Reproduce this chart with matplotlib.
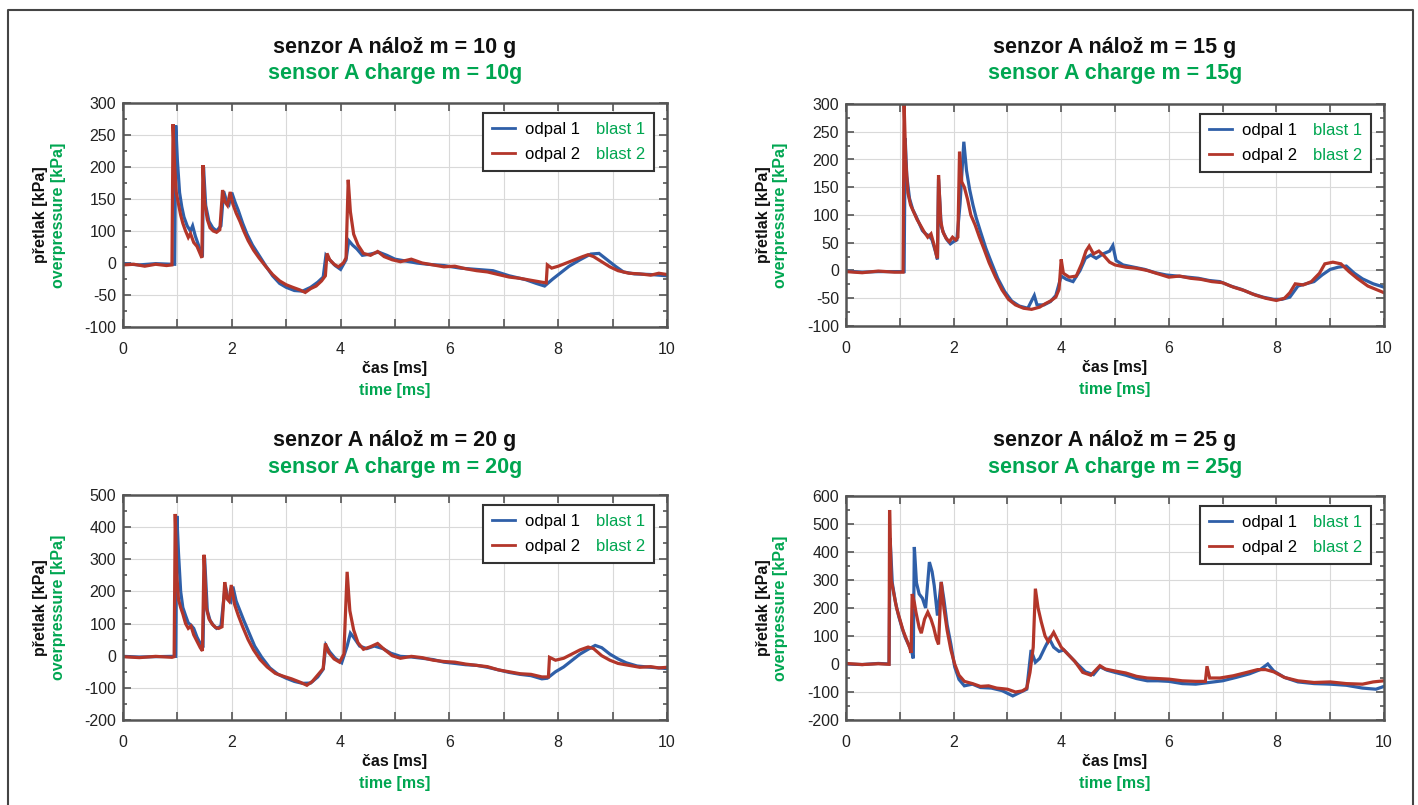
import numpy as np
import matplotlib
matplotlib.use("Agg")
import matplotlib.pyplot as plt
from matplotlib.lines import Line2D
from matplotlib.ticker import MultipleLocator

plt.rcParams["font.family"] = ["Liberation Sans", "DejaVu Sans"]
plt.rcParams["axes.unicode_minus"] = False

W, H = 1418, 805
GREEN = "#00a651"
BLUE = "#2f5fa8"
RED = "#b3362a"

# ---- data: (time ms, overpressure kPa) ----
m10_blast1 = [(0, -1), (0.3, -3), (0.6, -1), (0.9, -2), (0.95, -2), (0.97, 215), (1.00, 160), (1.04, 110),
              (1.08, 88), (1.12, 72), (1.18, 58), (1.24, 50), (1.28, 58), (1.33, 42), (1.40, 25), (1.44, 15),
              (1.46, 10), (1.48, 150), (1.52, 90), (1.58, 65), (1.65, 55), (1.72, 50), (1.80, 58), (1.85, 112),
              (1.90, 98), (1.95, 92), (2.00, 110), (2.06, 95), (2.12, 82), (2.20, 62), (2.28, 45), (2.38, 28),
              (2.50, 12), (2.62, -4), (2.75, -20), (2.88, -32), (3.00, -38), (3.15, -43), (3.30, -44),
              (3.45, -38), (3.58, -30), (3.68, -22), (3.73, 12), (3.80, 5), (3.90, -4), (4.00, -10), (4.10, 5),
              (4.15, 35), (4.22, 28), (4.30, 22), (4.40, 12), (4.55, 14), (4.70, 17), (4.85, 12), (5.00, 6),
              (5.20, 3), (5.40, 0), (5.60, -2), (5.90, -4), (6.20, -8), (6.50, -10), (6.80, -12), (7.10, -20),
              (7.40, -26), (7.60, -32), (7.75, -36), (7.90, -25), (8.05, -15), (8.20, -5), (8.40, 5),
              (8.60, 14), (8.75, 15), (8.90, 5), (9.05, -5), (9.20, -14), (9.40, -17), (9.70, -18), (10.0, -20)]
m10_blast2 = [(0, -3), (0.2, -2), (0.4, -5), (0.6, -2), (0.8, -4), (0.9, -3), (0.92, 217), (0.95, 150),
              (0.98, 110), (1.02, 92), (1.06, 75), (1.10, 62), (1.15, 50), (1.20, 40), (1.24, 46), (1.30, 32),
              (1.36, 26), (1.42, 14), (1.45, 8), (1.47, 153), (1.50, 95), (1.55, 68), (1.60, 55), (1.66, 50),
              (1.72, 48), (1.78, 52), (1.83, 114), (1.87, 96), (1.92, 90), (1.97, 111), (2.02, 92), (2.08, 78),
              (2.15, 65), (2.22, 50), (2.30, 35), (2.40, 20), (2.50, 8), (2.62, -5), (2.75, -18), (2.88, -28),
              (3.00, -34), (3.12, -38), (3.25, -42), (3.35, -46), (3.45, -40), (3.55, -36), (3.65, -28),
              (3.72, -20), (3.75, 15), (3.80, 5), (3.88, -2), (3.96, -6), (4.05, 0), (4.10, 8), (4.14, 130),
              (4.18, 80), (4.24, 45), (4.32, 28), (4.42, 15), (4.55, 12), (4.68, 18), (4.80, 10), (4.95, 5),
              (5.10, 2), (5.30, 6), (5.50, 0), (5.70, -3), (5.90, -6), (6.10, -5), (6.30, -9), (6.50, -12),
              (6.70, -14), (6.90, -18), (7.10, -22), (7.30, -24), (7.50, -27), (7.70, -30), (7.78, -31),
              (7.80, -3), (7.88, -8), (8.00, -5), (8.15, 0), (8.30, 5), (8.45, 10), (8.55, 13), (8.65, 10),
              (8.80, 2), (8.95, -6), (9.10, -12), (9.30, -16), (9.50, -17), (9.70, -19), (9.85, -16), (10.0, -18)]

m15_blast1 = [(0, -1), (0.3, -3), (0.6, -2), (0.9, -2), (1.08, -2), (1.10, 238), (1.13, 170), (1.18, 130),
              (1.24, 110), (1.30, 98), (1.36, 85), (1.42, 72), (1.48, 66), (1.55, 62), (1.60, 55), (1.66, 35),
              (1.70, 20), (1.72, 165), (1.77, 80), (1.82, 66), (1.88, 55), (1.94, 48), (2.00, 52), (2.06, 55),
              (2.12, 120), (2.19, 232), (2.24, 180), (2.30, 145), (2.36, 118), (2.42, 95), (2.50, 70),
              (2.60, 40), (2.70, 15), (2.82, -14), (2.95, -38), (3.08, -55), (3.22, -64), (3.38, -68),
              (3.50, -45), (3.55, -62), (3.68, -62), (3.80, -56), (3.90, -45), (4.00, -10), (4.10, -16),
              (4.22, -20), (4.35, 0), (4.45, 22), (4.55, 28), (4.65, 22), (4.78, 30), (4.90, 35), (4.96, 45),
              (5.02, 18), (5.15, 10), (5.35, 6), (5.55, 2), (5.75, -4), (5.95, -8), (6.15, -10), (6.35, -12),
              (6.55, -14), (6.75, -18), (6.95, -20), (7.15, -28), (7.35, -34), (7.55, -42), (7.75, -48),
              (7.95, -52), (8.10, -52), (8.25, -48), (8.40, -28), (8.55, -24), (8.70, -20), (8.85, -8),
              (9.00, 2), (9.15, 6), (9.30, 8), (9.45, -5), (9.60, -15), (9.80, -24), (10.0, -30)]
m15_blast2 = [(0, -2), (0.3, -4), (0.6, -1), (0.9, -3), (1.06, -3), (1.08, 300), (1.11, 200), (1.15, 140),
              (1.20, 118), (1.26, 105), (1.32, 92), (1.38, 82), (1.45, 70), (1.52, 60), (1.58, 66), (1.64, 45),
              (1.68, 28), (1.70, 22), (1.72, 172), (1.76, 90), (1.80, 70), (1.86, 58), (1.92, 52), (1.98, 60),
              (2.04, 55), (2.08, 60), (2.11, 214), (2.15, 160), (2.20, 150), (2.26, 128), (2.32, 100),
              (2.40, 82), (2.48, 60), (2.56, 40), (2.66, 14), (2.78, -12), (2.90, -35), (3.02, -52),
              (3.15, -62), (3.30, -68), (3.45, -70), (3.60, -66), (3.70, -60), (3.80, -55), (3.90, -48),
              (3.96, -34), (4.00, 20), (4.04, -5), (4.15, -12), (4.28, -10), (4.38, 12), (4.46, 35), (4.52, 44),
              (4.60, 30), (4.70, 35), (4.80, 26), (4.90, 15), (5.00, 10), (5.20, 6), (5.40, 4), (5.60, 0),
              (5.80, -6), (6.00, -12), (6.20, -10), (6.40, -14), (6.60, -16), (6.80, -20), (7.00, -22),
              (7.20, -30), (7.40, -36), (7.60, -44), (7.80, -50), (8.00, -54), (8.15, -50), (8.25, -40),
              (8.35, -24), (8.50, -26), (8.65, -20), (8.80, -5), (8.90, 12), (9.05, 15), (9.20, 12),
              (9.35, -2), (9.50, -14), (9.70, -28), (9.85, -34), (10.0, -40)]

m20_blast1 = [(0, -2), (0.3, -4), (0.6, -3), (0.9, -2), (0.97, -2), (0.99, 435), (1.02, 320), (1.06, 200),
              (1.10, 150), (1.15, 125), (1.20, 102), (1.25, 95), (1.30, 85), (1.36, 58), (1.42, 38),
              (1.47, 25), (1.50, 305), (1.55, 140), (1.60, 110), (1.66, 95), (1.72, 85), (1.80, 92),
              (1.88, 220), (1.93, 175), (1.98, 168), (2.02, 215), (2.08, 170), (2.15, 140), (2.22, 110),
              (2.32, 70), (2.42, 30), (2.55, -5), (2.70, -38), (2.85, -58), (3.00, -70), (3.15, -80),
              (3.30, -86), (3.45, -85), (3.58, -66), (3.68, -42), (3.73, 32), (3.80, 12), (3.90, -8),
              (4.02, -22), (4.12, 30), (4.18, 70), (4.25, 55), (4.35, 30), (4.48, 22), (4.62, 30), (4.78, 22),
              (4.92, 8), (5.10, -2), (5.30, -4), (5.50, -8), (5.70, -12), (5.90, -20), (6.10, -24), (6.30, -28),
              (6.50, -30), (6.70, -36), (6.90, -44), (7.10, -52), (7.30, -58), (7.50, -62), (7.70, -72),
              (7.80, -70), (7.95, -50), (8.10, -35), (8.25, -15), (8.40, 5), (8.55, 20), (8.68, 32),
              (8.80, 25), (8.95, 5), (9.10, -10), (9.25, -22), (9.45, -32), (9.70, -36), (10.0, -40)]
m20_blast2 = [(0, -3), (0.3, -6), (0.6, -2), (0.9, -5), (0.94, -3), (0.96, 441), (0.99, 250), (1.02, 175),
              (1.06, 150), (1.10, 130), (1.15, 100), (1.20, 85), (1.25, 92), (1.30, 65), (1.36, 45), (1.42, 25),
              (1.46, 15), (1.49, 314), (1.53, 150), (1.58, 115), (1.64, 98), (1.70, 88), (1.76, 85), (1.82, 90),
              (1.87, 229), (1.91, 178), (1.95, 170), (1.99, 220), (2.05, 160), (2.12, 125), (2.20, 90),
              (2.30, 50), (2.40, 18), (2.52, -12), (2.65, -35), (2.80, -55), (2.95, -64), (3.10, -72),
              (3.25, -82), (3.38, -92), (3.48, -80), (3.58, -60), (3.68, -40), (3.72, 38), (3.78, 10),
              (3.88, -10), (3.98, -20), (4.06, 5), (4.12, 261), (4.17, 140), (4.24, 80), (4.32, 40), (4.42, 20),
              (4.55, 28), (4.68, 38), (4.80, 20), (4.95, 0), (5.10, -8), (5.30, -2), (5.50, -6), (5.70, -14),
              (5.90, -18), (6.10, -20), (6.30, -26), (6.50, -30), (6.70, -34), (6.90, -44), (7.10, -50),
              (7.30, -56), (7.50, -58), (7.70, -66), (7.82, -66), (7.84, -5), (7.95, -14), (8.10, -8),
              (8.25, 5), (8.40, 18), (8.55, 27), (8.65, 22), (8.80, 0), (8.95, -14), (9.10, -24), (9.30, -30),
              (9.50, -36), (9.70, -34), (9.85, -38), (10.0, -36)]

m25_blast1 = [(0, 0), (0.3, -2), (0.6, 2), (0.80, 0), (0.82, 450), (0.86, 290), (0.92, 220), (0.98, 170),
              (1.04, 130), (1.10, 95), (1.16, 70), (1.22, 45), (1.25, 20), (1.27, 418), (1.31, 290), (1.36, 250),
              (1.42, 235), (1.48, 200), (1.55, 364), (1.60, 330), (1.64, 280), (1.70, 173), (1.77, 293),
              (1.82, 230), (1.88, 140), (1.95, 70), (2.02, -10), (2.10, -55), (2.20, -78), (2.35, -72),
              (2.50, -84), (2.70, -86), (2.90, -95), (3.10, -114), (3.25, -100), (3.36, -90), (3.44, 50),
              (3.52, 6), (3.60, 20), (3.70, 60), (3.78, 90), (3.86, 60), (3.96, 45), (4.05, 50), (4.15, 30),
              (4.30, 0), (4.45, -28), (4.60, -38), (4.72, -10), (4.85, -22), (5.00, -30), (5.20, -40),
              (5.40, -52), (5.60, -60), (5.80, -60), (6.00, -62), (6.25, -70), (6.50, -72), (6.75, -66),
              (7.00, -60), (7.25, -48), (7.50, -35), (7.70, -20), (7.84, 0), (7.95, -25), (8.15, -48),
              (8.40, -64), (8.70, -70), (9.00, -72), (9.30, -76), (9.60, -86), (9.85, -90), (10.0, -80)]
m25_blast2 = [(0, 2), (0.3, -2), (0.6, 1), (0.80, -1), (0.81, 550), (0.84, 300), (0.88, 260), (0.94, 200),
              (1.00, 160), (1.06, 120), (1.12, 90), (1.18, 60), (1.21, 40), (1.23, 250), (1.27, 220),
              (1.30, 185), (1.36, 130), (1.40, 110), (1.46, 160), (1.52, 185), (1.58, 160), (1.63, 130),
              (1.68, 90), (1.72, 70), (1.75, 200), (1.77, 293), (1.82, 200), (1.88, 120), (1.95, 50), (2.02, 0),
              (2.10, -40), (2.20, -62), (2.35, -70), (2.50, -80), (2.65, -78), (2.80, -86), (3.00, -90),
              (3.15, -100), (3.28, -96), (3.36, -86), (3.42, -30), (3.48, 60), (3.52, 269), (3.57, 200),
              (3.63, 150), (3.70, 100), (3.76, 80), (3.86, 113), (3.92, 90), (4.00, 60), (4.10, 40), (4.25, 10),
              (4.40, -30), (4.55, -40), (4.65, -20), (4.72, -6), (4.82, -18), (5.00, -25), (5.20, -32),
              (5.40, -44), (5.60, -50), (5.80, -52), (6.00, -54), (6.25, -60), (6.50, -62), (6.68, -62),
              (6.71, -8), (6.76, -50), (6.95, -50), (7.20, -42), (7.45, -30), (7.65, -20), (7.80, -20),
              (7.95, -28), (8.15, -48), (8.40, -60), (8.70, -66), (9.00, -64), (9.30, -70), (9.60, -72),
              (9.80, -64), (10.0, -60)]

charges = [10, 15, 20, 25]
series = [(m10_blast1, m10_blast2), (m15_blast1, m15_blast2),
          (m20_blast1, m20_blast2), (m25_blast1, m25_blast2)]
# y ranges / tick steps per panel; the 10 g panel labels skip "50" as in the original
ylims = [(-100, 250), (-100, 300), (-200, 500), (-200, 600)]
ysteps = [50, 50, 100, 100]
ylabels_10g = ["-100", "-50", "0", "100", "150", "200", "250", "300"]

# axes boxes in pixels: left, top, right, bottom
boxes = [(123, 103, 667, 327), (846, 104, 1384, 326),
         (123, 495, 667, 720), (846, 496, 1384, 720)]


def ftext(px, py, s, **kw):
    fig.text(px / W, 1 - py / H, s, ha="center", va="center", **kw)


fig = plt.figure(figsize=(W / 100, H / 100), dpi=100)

for i, (charge, (b1, b2)) in enumerate(zip(charges, series)):
    l, t, r, b = boxes[i]
    ax = fig.add_axes([l / W, 1 - b / H, (r - l) / W, (b - t) / H])
    t1, p1 = np.array(b1).T
    t2, p2 = np.array(b2).T
    h1, = ax.plot(t1, p1, color=BLUE, lw=2.3, solid_joinstyle="miter")
    h2, = ax.plot(t2, p2, color=RED, lw=2.3, solid_joinstyle="miter")

    ax.set_xlim(0, 10)
    ax.set_ylim(*ylims[i])
    ax.set_xticks(range(0, 11))
    ax.set_xticklabels([str(v) if v % 2 == 0 else "" for v in range(0, 11)])
    step = ysteps[i]
    yt = np.arange(ylims[i][0], ylims[i][1] + 1, step)
    ax.set_yticks(yt)
    if i == 0:
        ax.set_yticklabels(ylabels_10g)
    ax.yaxis.set_minor_locator(MultipleLocator(step / 2))
    ax.tick_params(which="both", direction="in", top=True, right=True, color="#555", width=1.2,
                   labelsize=11.5, labelcolor="#222")
    ax.tick_params(which="major", length=6)
    ax.tick_params(which="minor", length=3)
    ax.tick_params(axis="x", pad=11)
    ax.tick_params(axis="y", pad=5)
    ax.grid(True, color="#d9d9d9", lw=0.8)
    ax.set_axisbelow(True)
    for sp in ax.spines.values():
        sp.set_color("#555")
        sp.set_linewidth(1.8)

    empty = Line2D([], [], color="none")
    leg = ax.legend([h1, h2, empty, empty], ["odpal 1", "odpal 2", "blast 1", "blast 2"],
                    ncol=2, loc="upper right",
                    bbox_to_anchor=(1 - 13 / (r - l), 1 - 10 / (b - t)), borderaxespad=0,
                    fontsize=12, handlelength=1.4, handletextpad=0.6, columnspacing=-1.1,
                    labelspacing=0.6, borderpad=0.55, fancybox=False, framealpha=1,
                    edgecolor="#333")
    leg.get_frame().set_linewidth(1.5)
    for txt in leg.get_texts()[2:]:
        txt.set_color(GREEN)
    for lh in leg.get_lines()[:2]:
        lh.set_linewidth(2)

    cx = (l + r) / 2
    cy = (t + b) / 2
    ty = 47 if i < 2 else 440
    ftext(cx, ty, f"senzor A nálož m = {charge} g", fontsize=15.5, fontweight="bold", color="#111")
    ftext(cx, ty + 27, f"sensor A charge m = {charge}g", fontsize=15.5, fontweight="bold", color=GREEN)
    ftext(cx, b + 41, "čas [ms]", fontsize=11.5, fontweight="bold", color="#111")
    ftext(cx, b + 63, "time [ms]", fontsize=11.5, fontweight="bold", color=GREEN)
    ftext(l - 83, cy, "přetlak [kPa]", fontsize=11.5, fontweight="bold", color="#111", rotation=90)
    ftext(l - 65, cy, "overpressure [kPa]", fontsize=11.5, fontweight="bold", color=GREEN, rotation=90)

# outer frame (open at the bottom)
fx = [8 / W, 8 / W, 1413 / W, 1413 / W]
fy = [0, 1 - 10 / H, 1 - 10 / H, 0]
fig.add_artist(Line2D(fx, fy, transform=fig.transFigure, color="#444", lw=1.5))

fig.savefig("out.png", dpi=100)
